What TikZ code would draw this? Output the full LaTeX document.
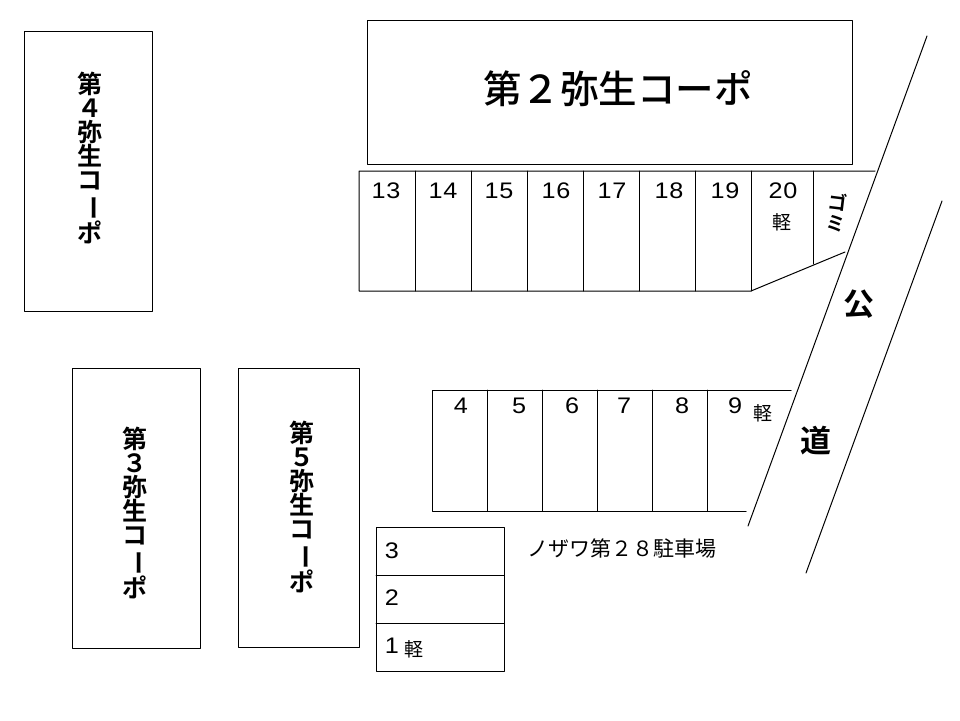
\documentclass[tikz,border=0pt]{standalone}
\usepackage{fontspec}
\setmainfont[FakeStretch=1.12]{Liberation Sans}
\newfontfamily\jpfont{Noto Sans CJK JP}
\newfontfamily\jpbold{Noto Sans CJK JP Bold}
\newfontfamily\jpmid{Noto Sans CJK JP Medium}
\newcommand{\tatebar}{\rotatebox[origin=c]{-90}{ー}}
\newcommand{\yayoi}[1]{第\\#1\\弥\\生\\コ\\\tatebar\\ポ}
\tikzset{
  wing/.style={draw,line width=1pt,minimum width=#1},
  bigname/.style={font=\jpbold\fontsize{25}{24}\selectfont,align=center},
  stall/.style={font=\fontsize{22.5}{22.5}\selectfont\addfontfeatures{LetterSpace=4},inner sep=0pt},
  kei/.style={font=\jpfont\fontsize{19}{19}\selectfont,inner sep=0pt}
}
\begin{document}
\begin{tikzpicture}[line cap=round,line join=round,x=1pt,y=-1pt,line width=1pt]
\useasboundingbox (0,0) rectangle (960,720);
\node[wing=485pt,minimum height=144pt] (coopb) at (610,92) {};
\node[wing=128pt,minimum height=280pt] (coopd) at (88.5,171) {};
\node[wing=128pt,minimum height=280pt] (coopc) at (136,508) {};
\node[wing=121pt,minimum height=279pt] (coope) at (298.5,507.5) {};
\node[inner sep=0pt,font=\jpmid\fontsize{38.5}{41}\selectfont] (nameb) at (618,89) {第２弥生コーポ};
\node[bigname] (named) at (90,158) {\yayoi{４}};
\node[bigname] (namec) at (135,513) {\yayoi{３}};
\node[bigname] (namee) at (302,507) {\yayoi{５}};
% upper stalls
\draw (875,171)--(359,171)--(359,291)--(751,291)--(845,252);
\foreach \x in {415,471,...,751}
{
\draw (\x,171)--(\x,291);
}
\draw (813,171)--(813,264);
\foreach \n/\x in {13/386,14/443,15/499,16/556,17/612,18/669,19/725,20/783}
{
\node[stall] (s\n) at (\x,191) {\n};
}
\node[kei] (keib) at (782,222) {軽};
\node[inner sep=0pt,rotate=-7,align=center,font=\jpbold\fontsize{19}{21}\selectfont] (gomi) at (837,212) {ゴ\\ミ};
% lower stalls
\draw (791,390)--(432,390)--(432,511)--(746,511);
\foreach \x in {487,542,...,707}
{
\draw (\x,390)--(\x,511);
}
\foreach \n/\x in {4/461,5/519,6/572,7/624,8/682,9/735}
{
\node[stall] (s\n) at (\x,406) {\n};
}
\node[kei] (keia) at (763,413) {軽};
% corner stalls
\draw (376,527) rectangle (504,671);
\draw (376,575)--(504,575);
\draw (376,623)--(504,623);
\node[stall] (s3) at (392,551) {3};
\node[stall] (s2) at (392,598) {2};
\node[stall] (s1) at (392,646) {1};
\node[kei] (keic) at (414,649) {軽};
\node[inner sep=0pt,font=\jpfont\fontsize{21}{21}\selectfont] (lot) at (622,549) {ノザワ第２８駐車場};
% road
\coordinate (ra) at (927,36);
\coordinate (rb) at (748,526);
\coordinate (rc) at (942,201);
\coordinate (rd) at (806,573);
\draw (ra)--(rb);
\draw (rc)--(rd);
\node[inner sep=0pt,font=\jpbold\fontsize{31}{31}\selectfont] (koa) at (859,304) {公};
\node[inner sep=0pt,font=\jpbold\fontsize{31}{31}\selectfont] (kob) at (816,441) {道};
\end{tikzpicture}
\end{document}
